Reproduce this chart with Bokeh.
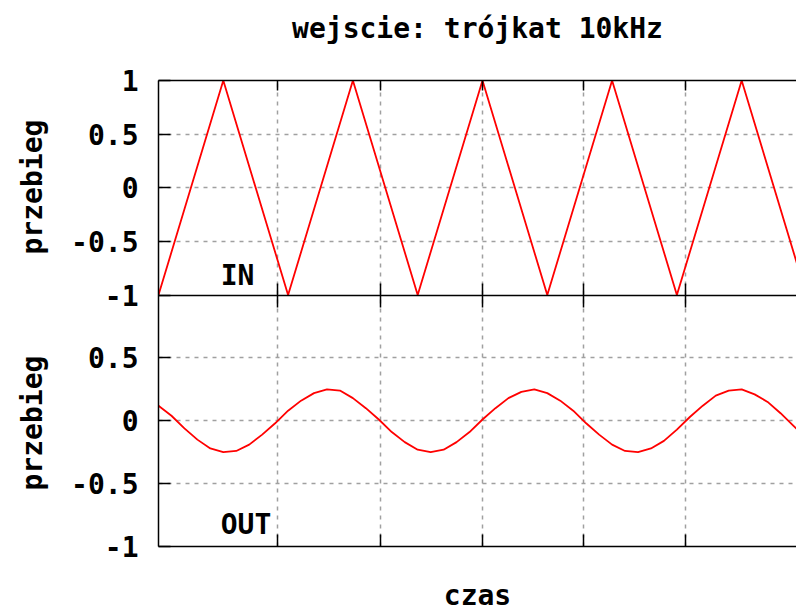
from bokeh.plotting import figure
from bokeh.models import Range1d, LinearAxis, FixedTicker, Label, Grid
from bokeh.embed import file_html
from bokeh.resources import INLINE

# ---------------- data ----------------
title_text = "wejscie: trójkat 10kHz"
x_label = "czas"
y_label = "przebieg"
in_label = "IN"
out_label = "OUT"

# input triangle wave: vertices (time in microseconds, value)
t_in = [0, 50, 100, 150, 200, 250, 300, 350, 400, 450, 500]
y_in = [-1, 1, -1, 1, -1, 1, -1, 1, -1, 1, -1]

# output waveform, read every 10 us
t_out = [0, 10, 20, 30, 40, 50, 60, 70, 80, 90,
         100, 110, 120, 130, 140, 150, 160, 170, 180, 190,
         200, 210, 220, 230, 240, 250, 260, 270, 280, 290,
         300, 310, 320, 330, 340, 350, 360, 370, 380, 390,
         400, 410, 420, 430, 440, 450, 460, 470, 480, 490, 500]
y_out = [0.12, 0.04, -0.06, -0.15, -0.22, -0.25, -0.24, -0.19, -0.11, -0.02,
         0.08, 0.16, 0.22, 0.25, 0.24, 0.18, 0.10, 0.01, -0.09, -0.17,
         -0.23, -0.25, -0.23, -0.17, -0.09, 0.01, 0.10, 0.18, 0.23, 0.25,
         0.22, 0.16, 0.08, -0.02, -0.11, -0.19, -0.24, -0.25, -0.22, -0.16,
         -0.07, 0.03, 0.12, 0.20, 0.24, 0.25, 0.21, 0.15, 0.06, -0.04, -0.14]

x_grid_ticks = [92, 171, 250, 328, 407]
y_ticks_in = [-1, -0.5, 0, 0.5, 1]
y_tick_labels_in = ["-1", "-0.5", "0", "0.5", "1"]
y_ticks_out = [-1, -0.5, 0, 0.5]
y_tick_labels_out = ["-1", "-0.5", "0", "0.5"]
y_grid_in = [-0.5, 0, 0.5]
y_grid_out = [-0.5, 0, 0.5]

# ---------------- layout ----------------
X_END = 492.3
H_IN, H_OUT = 215, 252          # panel heights in px
FONT = "DejaVu Sans Mono"
FS = "28px"
BLACK = "#000000"
RED = "#ff0000"
GRID = "#a0a0a0"
NBSP = "\u00a0"

out_top = 1 + 2 * H_IN / H_OUT
in_bottom = -1 - 2 * H_OUT / H_IN


def in_to_out(v):
    return round(1 + (v + 1) * H_IN / H_OUT, 9)


p = figure(width=796, height=80 + H_IN + H_OUT + 67,
           x_range=Range1d(0, X_END), y_range=Range1d(-1, out_top),
           x_axis_type=None, y_axis_type=None,
           output_backend="svg", toolbar_location=None,
           min_border_left=158, min_border_right=0,
           min_border_top=80, min_border_bottom=67)
p.extra_y_ranges = {"in": Range1d(in_bottom, 1)}
p.outline_line_color = None
p.background_fill_color = "white"
p.border_fill_color = "white"

# grids
grid_style = dict(grid_line_color=GRID, grid_line_dash="4 5", grid_line_width=1.5)
p.add_layout(Grid(dimension=0, ticker=FixedTicker(ticks=x_grid_ticks), **grid_style))
p.add_layout(Grid(dimension=1, ticker=FixedTicker(ticks=y_grid_in), y_range_name="in",
                  **grid_style))
p.add_layout(Grid(dimension=1, ticker=FixedTicker(ticks=y_grid_out), **grid_style))

label_style = dict(axis_label_text_font=FONT, axis_label_text_font_style="bold",
                   axis_label_text_font_size=FS, axis_label_text_color=BLACK)

# left axis carrying both panels' tick labels and both "przebieg" labels
ticks_all = list(y_ticks_out) + [in_to_out(v) for v in y_ticks_in]
labels_all = list(y_tick_labels_out) + list(y_tick_labels_in)
overrides = {t: s for t, s in zip(ticks_all, labels_all)}
ya = LinearAxis(ticker=FixedTicker(ticks=ticks_all), major_label_overrides=overrides,
                axis_label=NBSP + y_label + NBSP * 6 + y_label,
                axis_label_standoff=19, **label_style,
                major_tick_in=12, major_tick_out=0, minor_tick_line_color=None,
                major_label_standoff=20, major_label_text_font=FONT,
                major_label_text_font_style="bold", major_label_text_font_size=FS,
                major_label_text_color=BLACK, axis_line_color=BLACK, axis_line_width=1.5,
                major_tick_line_color=BLACK, major_tick_line_width=1.5)
p.add_layout(ya, "left")


def x_axis(**kw):
    return LinearAxis(ticker=FixedTicker(ticks=x_grid_ticks), minor_tick_line_color=None,
                      major_label_text_font_size="0px", major_label_text_color=None,
                      major_label_standoff=0,
                      axis_line_color=BLACK, axis_line_width=1.5,
                      major_tick_line_color=BLACK, major_tick_line_width=1.5, **kw)


# top border, carrying the chart title
p.add_layout(x_axis(major_tick_in=10, major_tick_out=0, axis_label=title_text,
                    axis_label_standoff=36, **label_style), "above")
# boundary between the two panels
p.add_layout(x_axis(major_tick_in=12, major_tick_out=12, fixed_location=1), "below")
# bottom border with the x label
p.add_layout(x_axis(major_tick_in=12, major_tick_out=0, axis_label=x_label,
                    axis_label_standoff=32, **label_style), "below")

# data lines
p.line(t_in, y_in, y_range_name="in", line_color=RED, line_width=1.8)
p.line(t_out, y_out, line_color=RED, line_width=1.8)

txt = dict(text_font=FONT, text_font_style="bold", text_font_size=FS, text_color=BLACK)
p.add_layout(Label(x=48, y=-0.814, y_range_name="in", text=in_label,
                   text_align="left", text_baseline="middle", **txt))
p.add_layout(Label(x=48, y=-0.825, text=out_label,
                   text_align="left", text_baseline="middle", **txt))

open("out.html", "w").write(file_html(p, INLINE))
